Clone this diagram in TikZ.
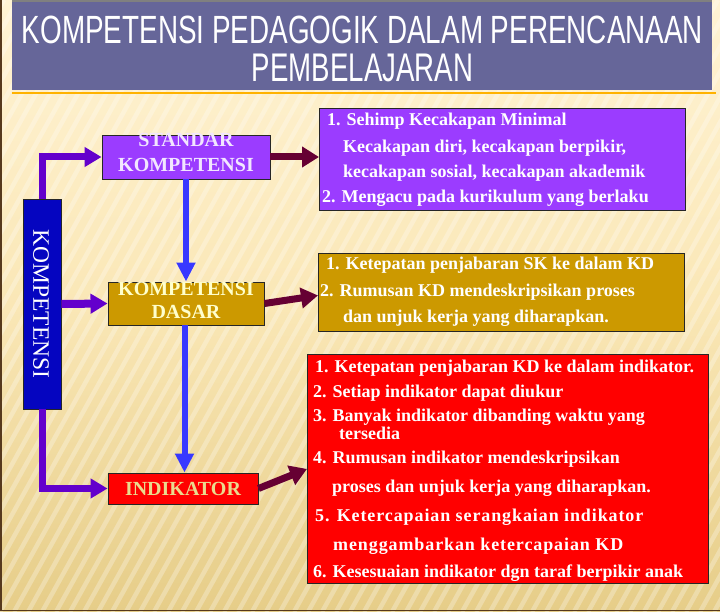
\documentclass[tikz,border=0pt]{standalone}
\usepackage{fontspec}
\setmainfont{Liberation Serif}
\setsansfont{Liberation Sans}
\newfontfamily\spacedfont{Liberation Serif}[LetterSpace=5]
\usetikzlibrary{arrows.meta}
\definecolor{bgtop}{HTML}{FFF3D4}
\definecolor{bgmid}{HTML}{FAE7B6}
\definecolor{bgbot}{HTML}{E6CD88}
\definecolor{titlebar}{HTML}{666699}
\definecolor{skpurple}{HTML}{9B3CFF}
\definecolor{kdgold}{HTML}{CC9900}
\definecolor{indred}{HTML}{FF0000}
\definecolor{kblue}{HTML}{0505C0}
\definecolor{arrpurple}{HTML}{6300CC}
\definecolor{arrblue}{HTML}{3838FF}
\definecolor{arrmaroon}{HTML}{660033}
\definecolor{sktext}{HTML}{F2E6FF}
\definecolor{kdtext}{HTML}{FFFFCC}
\definecolor{indtext}{HTML}{EADB8E}
\tikzset{
  cbox/.style={draw=black!85, line width=0.9pt, inner sep=0pt, rectangle},
  rtxt/.style={anchor=base west, inner sep=0pt, text=white, font=\bfseries\fontsize{18}{20}\selectfont},
  ltxt/.style={anchor=base, inner sep=0pt, font=\bfseries\fontsize{20}{21}\selectfont},
  purplearrow/.style={draw=arrpurple, line width=7pt, -{Triangle[length=17pt,width=19pt]}},
  bluearrow/.style={draw=arrblue, line width=6pt, -{Triangle[length=19pt,width=18pt]}},
  maroonarrow/.style={draw=arrmaroon, line width=7pt, -{Triangle[length=17pt,width=20pt]}},
}
\begin{document}
\begin{tikzpicture}[x=1pt,y=-1pt]
\useasboundingbox (0,0) rectangle (720,612);
% background
\shade[top color=bgtop, bottom color=bgbot, middle color=bgmid] (0,0) rectangle (720,612);
\begin{scope}
\clip (0,0) rectangle (720,612);
\foreach \s in {-420,-406,...,1120} {
  \draw[white, opacity=0.28, line width=4.5pt] (\s,612) -- (\s+340,0);
}
\end{scope}
\draw[draw=black!55!brown, line width=1.6pt] (1,0) -- (1,610.5) -- (720,610.5);
% title
\fill[titlebar] (12,1) rectangle (712,90);
\draw[gray, line width=1.5pt] (12,1) -- (712,1);
\draw[orange!60!yellow, line width=1.5pt] (12,93) -- (716,93);
\node[anchor=base, inner sep=0pt, text=white] (t1) at (362.5,44)
  {\resizebox{681pt}{27.5pt}{\sffamily KOMPETENSI PEDAGOGIK DALAM PERENCANAAN}};
\node[anchor=base, inner sep=0pt, text=white] (t2) at (362.5,82)
  {\resizebox{221pt}{27.5pt}{\sffamily PEMBELAJARAN}};

% left boxes
\node[cbox, fill=kblue, minimum width=38pt, minimum height=210pt] (K) at (42,304) {};
\node[inner sep=0pt, rotate=-90, text=white, font=\fontsize{23.5}{24}\selectfont] (Ktext) at (41,304) {KOMPETENSI};

\node[cbox, fill=skpurple, minimum width=168pt, minimum height=44pt] (SK) at (186,157) {};
\node[ltxt, text=sktext] (SK1) at (186,147) {STANDAR};
\node[ltxt, text=sktext] (SK2) at (186,172) {KOMPETENSI};

\node[cbox, fill=kdgold, minimum width=156pt, minimum height=43pt] (KD) at (186,303.5) {};
\node[ltxt, text=kdtext] (KD1) at (186,295) {KOMPETENSI};
\node[ltxt, text=kdtext] (KD2) at (186,318) {DASAR};

\node[cbox, fill=indred, minimum width=150pt, minimum height=31pt] (IND) at (183,488.5) {};
\node[ltxt, text=indtext] (IND1) at (183,495) {INDIKATOR};

% right boxes
\node[cbox, fill=skpurple, minimum width=366pt, minimum height=102pt, anchor=north west] (P1) at (319,108) {};
\node[rtxt] (p1a) at (327,126) {1. Sehimp Kecakapan Minimal};
\node[rtxt] (p1b) at (343,153) {Kecakapan diri, kecakapan berpikir,};
\node[rtxt] (p1c) at (343,178) {kecakapan sosial, kecakapan akademik};
\node[rtxt] (p1d) at (322,203) {2. Mengacu pada kurikulum yang berlaku};

\node[cbox, fill=kdgold, minimum width=366pt, minimum height=78pt, anchor=north west] (G) at (318,253) {};
\node[rtxt] (g1) at (326,270) {1. Ketepatan penjabaran SK ke dalam KD};
\node[rtxt] (g2) at (320,297) {2. Rumusan KD mendeskripsikan proses};
\node[rtxt] (g3) at (343,323) {dan unjuk kerja yang diharapkan.};

\node[cbox, fill=indred, minimum width=401pt, minimum height=229pt, anchor=north west] (R) at (307,354) {};
\node[rtxt] (r1) at (315,372) {1. Ketepatan penjabaran KD ke dalam indikator.};
\node[rtxt] (r2) at (313,397) {2. Setiap indikator dapat diukur};
\node[rtxt] (r3) at (313,421) {3. Banyak indikator dibanding waktu yang};
\node[rtxt] (r3b) at (339,439) {tersedia};
\node[rtxt] (r4) at (313,463) {4. Rumusan indikator mendeskripsikan};
\node[rtxt] (r4b) at (332,492) {proses dan unjuk kerja yang diharapkan.};
\node[rtxt, font=\spacedfont\bfseries\fontsize{18}{20}\selectfont] (r5) at (315,521) {5. Ketercapaian serangkaian indikator};
\node[rtxt, font=\spacedfont\bfseries\fontsize{18}{20}\selectfont] (r5b) at (333,550) {menggambarkan ketercapaian KD};
\node[rtxt] (r6) at (313,577) {6. Kesesuaian indikator dgn taraf berpikir anak};

% connectors
\draw[purplearrow] (K.north) |- (SK.west);
\draw[purplearrow, line width=8pt] (K.east) -- (KD.west);
\draw[purplearrow] (K.south) |- (IND.west);
\draw[bluearrow] (SK.south) -- (KD.north);
\draw[bluearrow] ([xshift=-1.5pt]KD.south) -- ([xshift=-1.5pt]KD.south |- IND.north);
\draw[maroonarrow] (SK.east) -- (SK.east -| P1.west);
\draw[maroonarrow] (KD.east) -- ([yshift=-3pt]G.west);
\draw[maroonarrow] (IND.east) -- (R.west);
\end{tikzpicture}
\end{document}
